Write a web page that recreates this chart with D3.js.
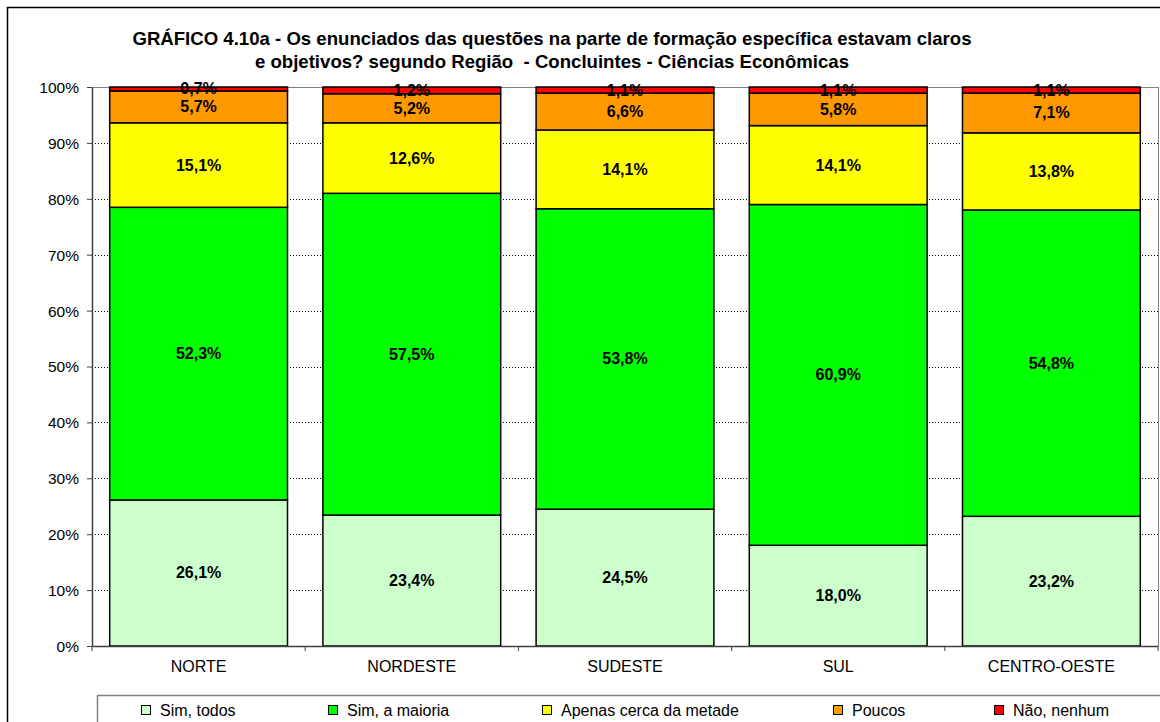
<!DOCTYPE html>
<html><head><meta charset="utf-8">
<script src="https://cdn.jsdelivr.net/npm/d3@7"></script>
<style>body{margin:0;background:#fff}svg{display:block;font-family:"Liberation Sans",Arial,sans-serif}</style>
</head><body>
<script>
const categories = ["NORTE","NORDESTE","SUDESTE","SUL","CENTRO-OESTE"];
const seriesNames = ["Sim, todos","Sim, a maioria","Apenas cerca da metade","Poucos","Não, nenhum"];
const simTodos = [26.1,23.4,24.5,18.0,23.2];
const simMaioria = [52.3,57.5,53.8,60.9,54.8];
const metade = [15.1,12.6,14.1,14.1,13.8];
const poucos = [5.7,5.2,6.6,5.8,7.1];
const nenhum = [0.7,1.2,1.1,1.1,1.1];
const colors = ["#CCFFCC","#00FF00","#FFFF00","#FF9900","#FF0000"];
const yTicks = [0,10,20,30,40,50,60,70,80,90,100];

const W=1160,H=722;
const svg=d3.select("body").append("svg").attr("width",W).attr("height",H);
svg.append("rect").attr("x",7.5).attr("y",7.5).attr("width",1170).attr("height",730).attr("fill","#fff").attr("stroke","#000").attr("stroke-width",1.5);

const L=92,R=1158,T=87,B=646;
const x=d3.scaleBand().domain(categories).range([L,R]).paddingInner(0.166).paddingOuter(0.083);
const y=d3.scaleLinear().domain([0,100]).range([B,T]);

// title
const title=svg.append("text").attr("text-anchor","middle").attr("font-weight","bold").attr("font-size",18.6);
title.append("tspan").attr("x",552).attr("y",45).text("GRÁFICO 4.10a - Os enunciados das questões na parte de formação específica estavam claros");
title.append("tspan").attr("x",552).attr("y",68).attr("xml:space","preserve").style("white-space","pre").text("e objetivos? segundo Região  - Concluintes - Ciências Econômicas");

// gridlines
svg.append("g").selectAll("line").data(yTicks.filter(d=>d>0&&d<100)).join("line")
  .attr("x1",L).attr("x2",R).attr("y1",d=>Math.round(y(d))+0.5).attr("y2",d=>Math.round(y(d))+0.5)
  .attr("stroke","#000").attr("stroke-dasharray","1,2").attr("stroke-width",1);
// plot border top/right
svg.append("line").attr("x1",L).attr("x2",R).attr("y1",T+0.5).attr("y2",T+0.5).attr("stroke","#808080");
svg.append("line").attr("x1",R+0.5).attr("x2",R+0.5).attr("y1",T).attr("y2",B).attr("stroke","#808080");

// stacked data
const rows=categories.map((c,i)=>({cat:c,v:[simTodos[i],simMaioria[i],metade[i],poucos[i],nenhum[i]]}));
const segs=[];
rows.forEach(r=>{
  const tot=d3.sum(r.v); let acc=0;
  r.v.forEach((v,k)=>{const y0=acc/tot*100; acc+=v; segs.push({cat:r.cat,k,v,y0,y1:acc/tot*100});});
});
svg.append("g").selectAll("rect").data(segs).join("rect")
  .attr("x",d=>x(d.cat)).attr("width",x.bandwidth())
  .attr("y",d=>y(d.y1)).attr("height",d=>y(d.y0)-y(d.y1))
  .attr("fill",d=>colors[d.k]).attr("stroke","#000").attr("stroke-width",1.5);
svg.append("g").selectAll("text").data(segs).join("text")
  .attr("x",d=>x(d.cat)+x.bandwidth()/2).attr("y",d=>(y(d.y0)+y(d.y1))/2+5.5)
  .attr("text-anchor","middle").attr("font-weight","bold").attr("font-size",16)
  .text(d=>d.v.toFixed(1).replace(".",",")+"%");

// axes
const ya=svg.append("g").attr("transform",`translate(${L},0)`)
  .call(d3.axisLeft(y).tickValues(yTicks).tickFormat(d=>d+"%").tickSize(5).tickSizeOuter(0));
ya.select(".domain").attr("stroke","#404040").attr("stroke-width",1.5);
ya.selectAll(".tick line").attr("stroke","#404040");
ya.selectAll("text").attr("font-size",15.5).attr("font-family","Liberation Sans, Arial, sans-serif").attr("fill","#000").attr("x",-13).attr("dy","0.35em");

const xa=svg.append("g").attr("transform",`translate(0,${B})`)
  .call(d3.axisBottom(x).tickSize(0).tickSizeOuter(0));
xa.select(".domain").attr("stroke","#404040").attr("stroke-width",1.5);
xa.selectAll("text").attr("font-size",16).attr("font-family","Liberation Sans, Arial, sans-serif").attr("fill","#000").attr("y",0).attr("dy","1.6em");
// category separator ticks
const bounds=d3.range(categories.length+1).map(i=>L+i*(R-L)/categories.length);
svg.append("g").selectAll("line").data(bounds).join("line")
  .attr("x1",d=>d).attr("x2",d=>d).attr("y1",B).attr("y2",B+5).attr("stroke","#404040");

// legend
svg.append("rect").attr("x",97.5).attr("y",695.5).attr("width",1080).attr("height",40).attr("fill","#fff").attr("stroke","#808080").attr("stroke-width",1.5);
const legX=[141,328,542,833,994];
const lg=svg.append("g").selectAll("g").data(seriesNames).join("g").attr("transform",(d,i)=>`translate(${legX[i]},705)`);
lg.append("rect").attr("x",0.5).attr("y",0.5).attr("width",9).attr("height",9).attr("fill",(d,i)=>colors[i]).attr("stroke","#000").attr("stroke-width",1);
lg.append("text").attr("x",19).attr("y",11).attr("font-size",16).text(d=>d);
</script>
</body></html>
